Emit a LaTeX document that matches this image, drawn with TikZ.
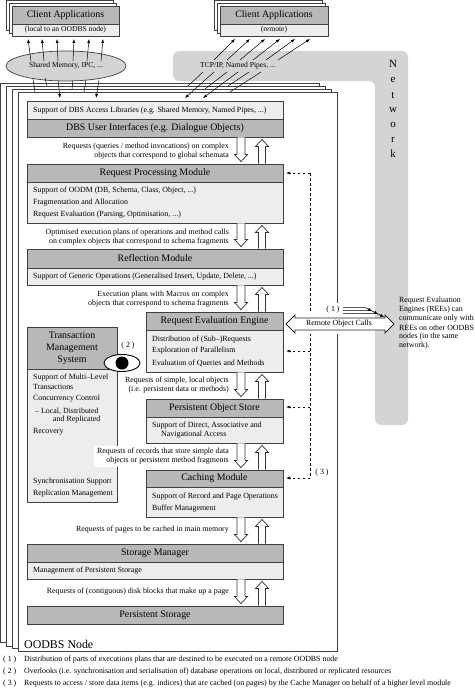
\documentclass[tikz,border=0pt]{standalone}
\usepackage{fontspec}
\setmainfont{Liberation Serif}
\usetikzlibrary{arrows.meta,positioning,shapes.geometric,calc}
\definecolor{headgray}{gray}{0.72}
\definecolor{bodygray}{gray}{0.93}
\definecolor{netgray}{gray}{0.83}
\tikzset{
  head/.style={rectangle,draw=black!75,line width=0.9pt,fill=headgray,inner sep=0pt,font=\fontsize{9.9}{10}\selectfont},
  body/.style={rectangle,draw=black!75,line width=0.9pt,fill=bodygray,inner sep=0pt},
  page/.style={rectangle,draw=black!75,line width=0.7pt,fill=white,inner sep=0pt},
  txt/.style={inner sep=0pt,font=\fontsize{7.9}{9}\selectfont},
  lab/.style={inner sep=0pt,font=\fontsize{7.9}{9}\selectfont,align=right,anchor=east},
  thinarrow/.style={-{Latex[length=4pt,width=3pt]},line width=0.5pt},
  thinline/.style={line width=0.5pt},
  blockarrow/.style={line width=0.7pt,draw=black!80,fill=white},
  dashline/.style={line width=0.6pt,dash pattern=on 2.5pt off 2.5pt}
}
\begin{document}
\begin{tikzpicture}[x=1pt,y=-1pt]
\useasboundingbox (0,0) rectangle (474,688);

% network
\fill[netgray,rounded corners=6pt] (173,51) -- (408,51) -- (408,425) -- (375,425) -- (375,81) -- (173,81) -- cycle;
\foreach \ch/\yy in {N/64,e/80,t/95,w/110,o/125,r/140,k/154}
  \node(net\ch) at (393,\yy) [inner sep=0pt,font=\fontsize{11}{11}\selectfont] {\ch};

% client stacks
\foreach \dx/\dy in {-6/-6,-3/-3}{
  \node(cla\dx) [page,minimum width=107pt,minimum height=30pt] at (65.5+\dx,21+\dy) {};
  \node(clb\dx) [page,minimum width=108pt,minimum height=30pt] at (274+\dx,21+\dy) {};
}
\node(clahead) [head,minimum width=107pt,minimum height=18pt] at (65.5,15) {Client Applications};
\node(clasub) [body,minimum width=107pt,minimum height=12pt,font=\fontsize{7.6}{9}\selectfont] at (65.5,30) {(local to an OODBS node)};
\node(clbhead) [head,minimum width=108pt,minimum height=18pt] at (274,15) {Client Applications};
\node(clbsub) [body,minimum width=108pt,minimum height=12pt,font=\fontsize{7.6}{9}\selectfont] at (274,30) {(remote)};

% node pages
\node(page3) [page,minimum width=319pt,minimum height=559pt] at (159.5,362.5) {};
\node(page2) [page,minimum width=319pt,minimum height=560pt] at (165.5,366) {};
\node(page1) [page,minimum width=319pt,minimum height=559pt] at (171.5,368.5) {};
\node(page0) [page,minimum width=319pt,minimum height=559pt] at (177.5,371.5) {};
\node(oodbs) at (24,644) [anchor=west,inner sep=0pt,font=\fontsize{11.9}{13}\selectfont] {OODBS Node};

% shared memory
\node(shm) [ellipse,draw=black!75,line width=0.7pt,fill=netgray,minimum width=120pt,minimum height=30pt,inner sep=0pt,font=\fontsize{7.6}{9}\selectfont] at (66,66) {Shared Memory, IPC, ...};
\node(tcp) [inner sep=0pt,font=\fontsize{7.6}{9}\selectfont] at (238,66) {TCP/IP, Named Pipes, ...};

\foreach \a/\b/\c/\d in {31/61/28/39,44/61/42/39,58/61/57/39,73/61/74/39,87/61/89/39,101/61/103/39,
  214/60/235/39,227/60/250/39,240/60/265/39,253/60/280/39,266/60/295/39,278/60/310/39,
  58/80/60/98,99/80/96/98,214/72/185/98,238/72/203/98}
  \draw[thinarrow] (\a,\b) -- (\c,\d);
\foreach \a/\b/\c/\d in {33/79/35/92,45/78/47/86,73/80/72/89,86/80/84/92,
  203/72/188/86,227/72/205/89,249/72/228/86,261/72/230/92}
  \draw[thinline] (\a,\b) -- (\c,\d);

% modules
\node(dbssub) [body,minimum width=256pt,minimum height=18pt] at (155,110) {};
\node(dbs) [head,minimum width=256pt,minimum height=18pt] at (155,128) {DBS User Interfaces (e.g. Dialogue Objects)};
\node(procbody) [body,minimum width=256pt,minimum height=41pt] at (155,202.5) {};
\node(proc) [head,minimum width=256pt,minimum height=18pt] at (155,173) {Request Processing Module};
\node(reflbody) [body,minimum width=256pt,minimum height=17pt] at (155,276.5) {};
\node(refl) [head,minimum width=256pt,minimum height=19pt] at (155,258.5) {Reflection Module};
\node(reebody) [body,minimum width=137pt,minimum height=42pt] at (214.5,351) {};
\node(ree) [head,minimum width=137pt,minimum height=18pt] at (214.5,321) {Request Evaluation Engine};
\node(posbody) [body,minimum width=137pt,minimum height=26pt] at (214.5,430) {};
\node(pos) [head,minimum width=137pt,minimum height=18pt] at (214.5,408) {Persistent Object Store};
\node(cachebody) [body,minimum width=137pt,minimum height=30pt] at (214.5,502) {};
\node(cache) [head,minimum width=137pt,minimum height=17pt] at (214.5,478.5) {Caching Module};
\node(smbody) [body,minimum width=256pt,minimum height=17pt] at (155,570.5) {};
\node(sm) [head,minimum width=256pt,minimum height=18pt] at (155,553) {Storage Manager};
\node(ps) [head,minimum width=256pt,minimum height=18pt] at (155,615) {Persistent Storage};
\node(tmsbody) [body,minimum width=90pt,minimum height=133pt] at (72,435.5) {};
\node(tms) [head,minimum width=90pt,minimum height=42pt,align=center,font=\fontsize{9.9}{12}\selectfont] at (72,348) {Transaction\\Management\\System};

\foreach \tx/\xx/\yy in {{Support of DBS Access Libraries (e.g. Shared Memory, Named Pipes, ...)}/33/111,
  {Support of OODM (DB, Schema, Class, Object, ...)}/33/191,
  {Fragmentation and Allocation}/33/203,
  {Request Evaluation (Parsing, Optimisation, ...)}/33/215,
  {Support of Generic Operations (Generalised Insert, Update, Delete, ...)}/33/277,
  {Distribution of (Sub--)Requests}/152/340,
  {Exploration of Parallelism}/152/351,
  {Evaluation of Queries and Methods}/152/363,
  {Support of Direct, Associative and}/152/426,
  {Navigational Access}/161/435,
  {Support of Record and Page Operations}/152/497,
  {Buffer Management}/152/509,
  {Management of Persistent Storage}/33/571,
  {Support of Multi--Level}/33/378,
  {Transactions}/33/387,
  {Concurrency Control}/33/399,
  {-- Local, Distributed}/35/411,
  {and Replicated}/53/420,
  {Recovery}/33/432,
  {Synchronisation Support}/33/482,
  {Replication Management}/33/494,
  {( 1 )}/3/660,{( 2 )}/3/672,{( 3 )}/3/684,
  {Distribution of parts of executions plans that are destined to be executed on a remote OODBS node}/24/660,
  {Overlooks (i.e. synchronisation and serialisation of) database operations on local, distributed or replicated resources}/24/672,
  {Requests to access / store data items (e.g. indices) that are cached (on pages) by the Cache Manager on behalf of a higher level module}/24/684,
  {Request Evaluation}/399/301,{Engines (REEs) can}/399/310,{communicate only with}/399/319,{REEs on other OODBS}/399/328,{nodes (in the same}/399/337,{network).}/399/346}
  \node [txt,anchor=west] at (\xx,\yy) {\tx};

% labels between modules
\node(l1) [lab] at (229,151) {Requests (queries / method invocations) on complex\\objects that correspond to global schemata};
\node(l2) [lab] at (229,237.5) {Optimised execution plans of operations and method calls\\on complex objects that correspond to schema fragments};
\node(l3) [lab] at (229,299.5) {Execution plans with Macros on complex\\objects that correspond to schema fragments};
\node(l4) [lab] at (229,385.5) {Requests of simple, local objects\\(i.e. persistent data or methods)};
\node(l5) [lab,fill=white,inner xsep=3pt,inner ysep=2pt] at (232,456.5) {Requests of records that store simple data\\objects or persistent method fragments};
\node(l6) [lab] at (229,530) {Requests of pages to be cached in main memory};
\node(l7) [lab] at (229,592) {Requests of (contiguous) disk blocks that make up a page};

% block arrows
\foreach \up/\dn in {dbs/proc,procbody/refl,reflbody/ree,reebody/pos,posbody/cache,cachebody/sm,smbody/ps}{
  \coordinate(ua) at (241,0 |- \up.south);
  \coordinate(da) at (241,0 |- \dn.north);
  \coordinate(ub) at (262,0 |- \up.south);
  \coordinate(db) at (262,0 |- \dn.north);
  \draw[blockarrow] ($(ua)+(-4,0)$) -- ($(da)+(-4,-9)$) -- ($(da)+(-6.5,-9)$) -- ($(da)+(0,-2)$) -- ($(da)+(6.5,-9)$) -- ($(da)+(4,-9)$) -- ($(ua)+(4,0)$);
  \draw[blockarrow] ($(db)+(-3.5,0)$) -- ($(ub)+(-3.5,9)$) -- ($(ub)+(-6.5,9)$) -- ($(ub)+(0,2)$) -- ($(ub)+(6.5,9)$) -- ($(ub)+(3.5,9)$) -- ($(db)+(3.5,0)$);
}

% eye
\node(eye) [ellipse,draw=black,line width=0.9pt,fill=white,minimum width=36pt,minimum height=17pt,inner sep=0pt] at (122,363) {};
\node(pupil) [circle,fill=black,minimum size=13pt,inner sep=0pt] at (122,363) {};
\node(n2) [txt] at (128,346) {( 2 )};

% dashed links
\coordinate(dtop) at (310,173);
\coordinate(dbot) at (310,478);
\draw[dashline] (dtop) -- (dbot);
\foreach \yy in {173,351,407,478}
  \draw[dashline,-{Latex[length=4pt,width=3pt]}] (310,\yy) -- (286,\yy);
\node(n3) [txt] at (322,473) {( 3 )};

% remote calls
\fill[white] (304,311) rectangle (345,334);
\fill[white] (326,303) rectangle (345,334);
\node(n1) [txt] at (333,310) {( 1 )};
\foreach \yy/\xx in {307.5/365,310.5/371,313.5/377}{
  \coordinate(zs) at (343,\yy);
  \coordinate(zm) at (\xx,\yy);
  \draw[thinline,-{Latex[length=4pt,width=3pt]}] (zs) -- (zm) -- ++(7,3.5);
}
\draw[line width=0.8pt,fill=white,draw=black!85] (286,324) -- (295,315) -- (295,318) -- (385,318) -- (385,315) -- (394,324) -- (385,333) -- (385,330) -- (295,330) -- (295,333) -- cycle;
\node(roc) [txt] at (339,324) {Remote Object Calls};
\end{tikzpicture}
\end{document}
